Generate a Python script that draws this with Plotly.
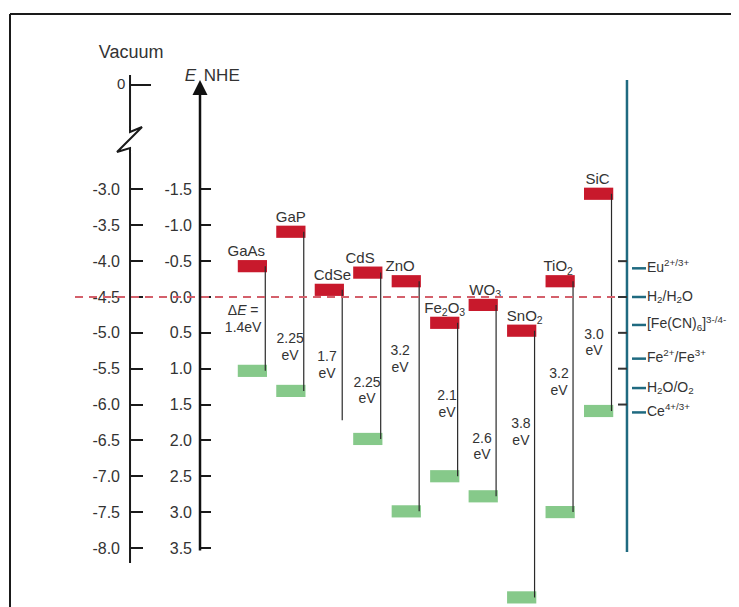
import plotly.graph_objects as go

# ---------------- data ----------------
materials = ["GaAs", "GaP", "CdSe", "CdS", "ZnO",
             "Fe<sub>2</sub>O<sub>3</sub>", "WO<sub>3</sub>", "SnO<sub>2</sub>",
             "TiO<sub>2</sub>", "SiC"]
cb_nhe = [-0.43, -0.91, -0.10, -0.34, -0.22, 0.36, 0.11, 0.47, -0.22, -1.44]   # conduction band edge (V vs NHE)
vb_nhe = [1.03, 1.31, 1.72, 1.98, 2.99, 2.50, 2.78, 4.19, 3.00, 1.59]          # valence band edge (V vs NHE)
vb_bar_shown = [True, True, False, True, True, True, True, True, True, True]
gap_line1 = ["Δ<i>E</i> =", "2.25", "1.7", "2.25", "3.2", "2.1", "2.6", "3.8", "3.2", "3.0"]
gap_line2 = ["1.4eV", "eV", "eV", "eV", "eV", "eV", "eV", "eV", "eV", "eV"]

nhe_ticks = [-1.5, -1.0, -0.5, 0.0, 0.5, 1.0, 1.5, 2.0, 2.5, 3.0, 3.5]
nhe_ticktext = ["-1.5", "-1.0", "-0.5", "0.0", "0.5", "1.0", "1.5", "2.0", "2.5", "3.0", "3.5"]
vac_ticks = [-3.0, -3.5, -4.0, -4.5, -5.0, -5.5, -6.0, -6.5, -7.0, -7.5, -8.0]
vac_ticktext = ["-3.0", "-3.5", "-4.0", "-4.5", "-5.0", "-5.5", "-6.0", "-6.5", "-7.0", "-7.5", "-8.0"]
NHE_OFFSET = -4.5   # vacuum level = -4.5 - E(NHE)

redox_labels = ["Eu<sup>2+/3+</sup>", "H<sub>2</sub>/H<sub>2</sub>O",
                "[Fe(CN)<sub>6</sub>]<sup>3-/4-</sup>", "Fe<sup>2+</sup>/Fe<sup>3+</sup>",
                "H<sub>2</sub>O/O<sub>2</sub>", "Ce<sup>4+/3+</sup>"]
redox_nhe = [-0.40, 0.0, 0.39, 0.86, 1.27, 1.61]
redox_scale_ticks = [-0.5, 0.0, 0.5, 1.0, 1.5]

# ---------------- layout constants ----------------
FONT = "Liberation Sans, Arial, sans-serif"
TXT = "#333333"
RED = "#c8192c"
GREEN = "#86c98a"
TEAL = "#1f6a80"
DASH_RED = "#d4606b"
BAR_W = 0.76
BAR_H = 0.17
LINE_DX = 0.335
W, H = 731, 599                     # page body has an 8px margin
X_RANGE = [-6.353, 12.649]
Y_RANGE = [4.324, -4.031]           # NHE, positive downward
VAC_X = -3.181
NHE_X = -1.362
BLUE_X = 9.737
label_dx = [-0.16, 0.0, 0.08, -0.2, -0.16, 0.0, 0.05, 0.08, -0.05, -0.03]
gap_dx = [-0.24, -0.02, -0.06, -0.02, -0.16, 0.06, -0.03, -0.02, -0.03, -0.12]
gap_y = [0.32, 0.71, 0.96, 1.32, 0.88, 1.51, 2.10, 1.90, 1.20, 0.65]
GAP_HALF = 0.116

idx = list(range(len(materials)))

fig = go.Figure()

# band-gap connecting lines
lx, ly = [], []
for i in idx:
    lx += [i + LINE_DX, i + LINE_DX, None]
    ly += [cb_nhe[i], vb_nhe[i], None]
fig.add_trace(go.Scatter(x=lx, y=ly, mode="lines", line=dict(color="#2a2a2a", width=1.2),
                         hoverinfo="skip", showlegend=False))

# conduction band bars
fig.add_trace(go.Bar(x=idx, y=[BAR_H] * len(idx), base=[c - BAR_H / 2 for c in cb_nhe],
                     width=BAR_W, marker=dict(color=RED, line=dict(width=0)),
                     showlegend=False, hoverinfo="skip"))
# valence band bars
vb_i = [i for i in idx if vb_bar_shown[i]]
fig.add_trace(go.Bar(x=vb_i, y=[BAR_H] * len(vb_i), base=[vb_nhe[i] - BAR_H / 2 for i in vb_i],
                     width=BAR_W, marker=dict(color=GREEN, line=dict(width=0)),
                     showlegend=False, hoverinfo="skip"))

# vacuum axis line with break (on vacuum scale)
fig.add_trace(go.Scatter(
    x=[VAC_X, VAC_X, VAC_X + 0.312, VAC_X - 0.338, VAC_X, VAC_X],
    y=[-1.404, -2.199, -2.129, -2.478, -2.422, -8.210],
    yaxis="y2", mode="lines", line=dict(color="#1a1a1a", width=2),
    hoverinfo="skip", showlegend=False))


def text_trace(x, y, text, pos, size, yaxis="y"):
    return go.Scatter(x=x, y=y, text=text, mode="text", textposition=pos, yaxis=yaxis,
                      textfont=dict(family=FONT, size=size, color=TXT),
                      hoverinfo="skip", showlegend=False, cliponaxis=False)


# material labels above conduction band bars
fig.add_trace(text_trace([i + label_dx[i] for i in idx], [cb_nhe[i] - BAR_H / 2 for i in idx],
                         materials, "top center", 15))
# band-gap labels (two lines)
fig.add_trace(text_trace([i + gap_dx[i] for i in idx], [gap_y[i] - GAP_HALF for i in idx],
                         gap_line1, "middle center", 14))
fig.add_trace(text_trace([i + gap_dx[i] for i in idx], [gap_y[i] + GAP_HALF for i in idx],
                         gap_line2, "middle center", 14))
# redox couple labels
fig.add_trace(text_trace([BLUE_X + 0.52] * len(redox_labels), redox_nhe, redox_labels,
                         "middle right", 14))
# axis captions
fig.add_trace(text_trace([VAC_X + 0.03], [-3.40], ["Vacuum"], "middle center", 18))
fig.add_trace(text_trace([VAC_X - 0.12], [-1.543], ["0"], "middle left", 15, yaxis="y2"))
fig.add_trace(text_trace([NHE_X - 0.1], [-3.07], ["<i>E</i>"], "middle left", 17))
fig.add_trace(text_trace([NHE_X + 0.1], [-3.07], ["NHE"], "middle right", 17))

shapes = []
annotations = []

# vacuum zero tick (above the break)
shapes.append(dict(type="line", xref="x", yref="y2", x0=VAC_X, x1=VAC_X + 0.546,
                   y0=-1.543, y1=-1.543, line=dict(color="#1a1a1a", width=2)))

# NHE axis arrow
annotations.append(dict(x=NHE_X, y=-3.027, ax=NHE_X, ay=3.556, xref="x", yref="y",
                        axref="x", ayref="y", text="", showarrow=True, arrowhead=2,
                        arrowsize=1.2, arrowwidth=2.5, arrowcolor="#111"))

# dashed H2/H2O reference line
shapes.append(dict(type="line", xref="x", yref="y", x0=-4.611, x1=9.555, y0=0, y1=0,
                   line=dict(color=DASH_RED, width=2, dash="8px,6px")))

# redox scale
shapes.append(dict(type="line", xref="x", yref="y", x0=BLUE_X, x1=BLUE_X, y0=-3.027, y1=3.556,
                   line=dict(color=TEAL, width=2.5)))
for t in redox_scale_ticks:
    shapes.append(dict(type="line", xref="x", yref="y", x0=BLUE_X - 0.233, x1=BLUE_X, y0=t, y1=t,
                       line=dict(color="#333", width=2)))
for v in redox_nhe:
    shapes.append(dict(type="line", xref="x", yref="y", x0=BLUE_X + 0.131, x1=BLUE_X + 0.495,
                       y0=v, y1=v, line=dict(color=TEAL, width=2.5)))

# frame (top and left edges)
shapes.append(dict(type="line", xref="paper", yref="paper", x0=2 / W, x1=1, y0=1 - 6 / H, y1=1 - 6 / H,
                   line=dict(color="#1a1a1a", width=2)))
shapes.append(dict(type="line", xref="paper", yref="paper", x0=2 / W, x1=2 / W, y0=0, y1=1 - 6 / H,
                   line=dict(color="#1a1a1a", width=2)))

fig.update_layout(
    width=W, height=H,
    margin=dict(l=0, r=0, t=0, b=0),
    paper_bgcolor="white", plot_bgcolor="white",
    barmode="overlay",
    showlegend=False,
    xaxis=dict(range=X_RANGE, visible=False, fixedrange=True),
    yaxis=dict(range=Y_RANGE, anchor="free", position=(NHE_X - X_RANGE[0]) / (X_RANGE[1] - X_RANGE[0]),
               side="left", tickvals=nhe_ticks, ticktext=nhe_ticktext, ticks="inside",
               ticklen=10, tickwidth=2, tickcolor="#1a1a1a", showline=False, showgrid=False,
               zeroline=False, automargin=False, ticklabelstandoff=8,
               tickfont=dict(family=FONT, size=16, color=TXT)),
    yaxis2=dict(range=[NHE_OFFSET - Y_RANGE[0], NHE_OFFSET - Y_RANGE[1]], overlaying="y",
                anchor="free", position=(VAC_X - X_RANGE[0]) / (X_RANGE[1] - X_RANGE[0]),
                side="left", tickvals=vac_ticks, ticktext=vac_ticktext, ticks="inside",
                ticklen=12, tickwidth=2, tickcolor="#1a1a1a", showline=False, showgrid=False,
                zeroline=False, automargin=False, ticklabelstandoff=10,
                tickfont=dict(family=FONT, size=16, color=TXT)),
    shapes=shapes,
    annotations=annotations,
)

fig.write_html("out.html")
